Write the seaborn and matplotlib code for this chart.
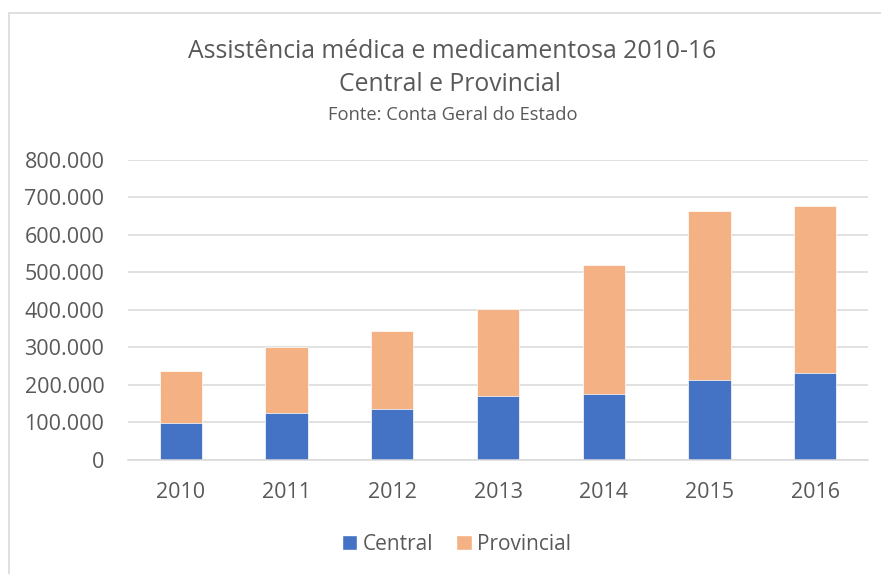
import matplotlib
matplotlib.use("Agg")
import matplotlib.pyplot as plt
from matplotlib.patches import Patch, Rectangle
import seaborn as sns
import pandas as pd

# -----------------------------
# Data
# -----------------------------
years = ["2010", "2011", "2012", "2013", "2014", "2015", "2016"]
central = [99000, 124000, 135000, 171000, 176000, 213000, 231000]
provincial = [139000, 176000, 209000, 232000, 345000, 450000, 446000]

df = pd.DataFrame({"Ano": years, "Central": central, "Provincial": provincial})
df["Total"] = df["Central"] + df["Provincial"]

blue = "#4472C4"
orange = "#F4B183"
grey_text = "#595959"
grid_col = "#D9D9D9"

sns.set_style("white")
plt.rcParams["font.family"] = ["Open Sans", "DejaVu Sans"]

fig = plt.figure(figsize=(8.81, 5.74), dpi=100)
ax = fig.add_axes([0.1453, 0.1986, 0.8400, 0.5227])

# stacked bars: total first, central on top of it
sns.barplot(data=df, x="Ano", y="Total", color=orange, width=0.4,
            saturation=1, edgecolor="white", linewidth=0.5, ax=ax)
sns.barplot(data=df, x="Ano", y="Central", color=blue, width=0.4,
            saturation=1, edgecolor="white", linewidth=0.5, ax=ax)

ax.set_xlim(-0.5, len(years) - 0.5)
ax.set_ylim(0, 800000)
ax.set_yticks(range(0, 800001, 100000))
ax.set_yticklabels([f"{v:,}".replace(",", ".") for v in range(0, 800001, 100000)])
ax.set_xlabel("")
ax.set_ylabel("")

ax.yaxis.grid(True, color=grid_col, linewidth=1.1)
ax.set_axisbelow(True)
for s in ["top", "right", "left"]:
    ax.spines[s].set_visible(False)
ax.spines["bottom"].set_color(grid_col)
ax.spines["bottom"].set_linewidth(1.1)
ax.tick_params(axis="both", length=0, labelsize=15.5, colors=grey_text)
ax.tick_params(axis="x", pad=16)
ax.tick_params(axis="y", pad=17)

# titles
fig.text(0.513, 0.911, "Assistência médica e medicamentosa 2010-16",
         ha="center", va="center", fontsize=17.8, color=grey_text)
fig.text(0.511, 0.853, "Central e Provincial",
         ha="center", va="center", fontsize=17.8, color=grey_text)
fig.text(0.514, 0.799, "Fonte: Conta Geral do Estado",
         ha="center", va="center", fontsize=13.2, color=grey_text)

# legend
handles = [Patch(facecolor=blue, label="Central"),
           Patch(facecolor=orange, label="Provincial")]
fig.legend(handles=handles, loc="center", bbox_to_anchor=(0.518, 0.052),
           ncol=2, frameon=False, fontsize=15, labelcolor=grey_text,
           handlelength=0.75, handleheight=0.75, handletextpad=0.25,
           columnspacing=1.1)

# chart border
fig.patches.append(Rectangle((9 / 881, -0.05), 1.0, 1 - 13 / 574 + 0.05,
                             transform=fig.transFigure, fill=False,
                             edgecolor=grid_col, linewidth=1.2))

fig.savefig("out.png", dpi=100)
